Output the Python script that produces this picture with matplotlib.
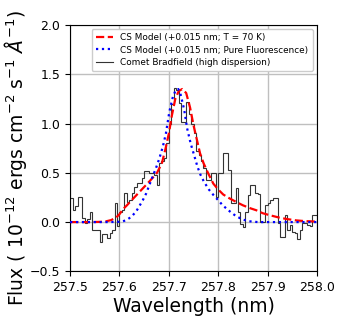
import numpy as np
import matplotlib
matplotlib.use("Agg")
import matplotlib.pyplot as plt

# observed spectrum, 0.005 nm bins from 257.5 to 258.0
bin_lo, bin_hi, n_bins = 257.5, 258.0, 100
flux_obs = [
    0.24, 0.12, 0.16, 0.25, 0.25, 0.04, -0.01, 0.03, 0.10, -0.08,
    -0.08, -0.08, -0.20, -0.12, -0.12, -0.16, -0.11, -0.08, 0.19, -0.04,
    0.10, 0.12, 0.30, 0.20, 0.22, 0.30, 0.36, 0.40, 0.40, 0.45,
    0.52, 0.52, 0.50, 0.50, 0.48, 0.38, 0.60, 0.62, 0.65, 0.80,
    1.00, 1.20, 1.36, 1.34, 1.21, 1.02, 1.02, 1.22, 1.10, 1.00,
    0.90, 0.72, 0.68, 0.62, 0.55, 0.43, 0.43, 0.50, 0.50, 0.25,
    0.50, 0.50, 0.70, 0.70, 0.53, 0.19, 0.19, 0.35, 0.10, -0.02,
    -0.05, 0.10, 0.27, 0.38, 0.38, 0.30, 0.28, 0.00, 0.00, 0.17,
    0.19, 0.22, 0.24, 0.24, -0.01, -0.15, -0.15, 0.07, -0.08, -0.03,
    -0.10, -0.11, -0.17, -0.08, -0.01, -0.01, -0.03, -0.04, 0.07, 0.07,
]

# CS model, T = 70 K
wl_red = [257.50, 257.54, 257.56, 257.573, 257.583, 257.593, 257.60, 257.607,
          257.615, 257.628, 257.645, 257.662, 257.676, 257.686, 257.693,
          257.70, 257.706, 257.713, 257.72, 257.727, 257.735, 257.743,
          257.75, 257.757, 257.763, 257.77, 257.78, 257.79, 257.80,
          257.81, 257.823, 257.838, 257.85, 257.865, 257.877, 257.89,
          257.904, 257.924, 257.94, 257.958, 257.975, 258.0]
flux_red = [0.0, 0.0, 0.002, 0.008, 0.02, 0.045, 0.08, 0.13,
            0.17, 0.24, 0.33, 0.42, 0.50, 0.60, 0.74,
            0.90, 1.08, 1.25, 1.33, 1.35, 1.31, 1.16,
            0.98, 0.83, 0.70, 0.60, 0.49, 0.39, 0.33,
            0.28, 0.24, 0.20, 0.17, 0.14, 0.12, 0.09,
            0.07, 0.045, 0.03, 0.017, 0.01, 0.005]

# CS model, pure fluorescence
wl_blue = [257.50, 257.58, 257.60, 257.607, 257.6135, 257.62, 257.627, 257.634,
           257.64, 257.647, 257.654, 257.66, 257.667, 257.674, 257.681,
           257.688, 257.694, 257.701, 257.708, 257.714, 257.719, 257.724,
           257.731, 257.737, 257.744, 257.751, 257.758, 257.764, 257.771,
           257.781, 257.791, 257.802, 257.809, 257.823, 257.836, 257.85,
           257.863, 257.88, 258.0]
flux_blue = [0.0, 0.0, 0.003, 0.008, 0.02, 0.04, 0.07, 0.11,
             0.16, 0.22, 0.29, 0.37, 0.46, 0.55, 0.65,
             0.77, 0.90, 1.12, 1.27, 1.34, 1.35, 1.29,
             1.14, 0.95, 0.80, 0.68, 0.56, 0.48, 0.41,
             0.33, 0.27, 0.21, 0.17, 0.11, 0.06, 0.025,
             0.008, 0.0, 0.0]

edges = np.linspace(bin_lo, bin_hi, n_bins + 1)

fig = plt.figure(figsize=(3.42, 3.20), dpi=100)
ax = fig.add_axes([0.205, 0.152, 0.722, 0.770])

ax.plot(wl_red, flux_red, color="red", ls="--", lw=1.6,
        label="CS Model (+0.015 nm; T = 70 K)", zorder=3)
ax.plot(wl_blue, flux_blue, color="blue", ls=":", lw=1.6,
        label="CS Model (+0.015 nm; Pure Fluorescence)", zorder=3)
ax.stairs(flux_obs, edges, baseline=None, color="0.2", lw=0.8,
          label="Comet Bradfield (high dispersion)", zorder=2)

ax.set_xlim(257.5, 258.0)
ax.set_ylim(-0.5, 2.0)
ax.set_xticks([257.5, 257.6, 257.7, 257.8, 257.9, 258.0])
ax.set_yticks([-0.5, 0.0, 0.5, 1.0, 1.5, 2.0])
ax.tick_params(labelsize=9)
ax.grid(True, color="0.75", lw=1.0)
ax.set_axisbelow(True)

ax.set_xlabel("Wavelength (nm)", fontsize=13.5, labelpad=2)
ax.set_ylabel(r"Flux ( 10$^{-12}$ ergs cm$^{-2}$ s$^{-1}$ $\AA^{-1}$)",
              fontsize=13.5, labelpad=1)
ax.yaxis.set_label_coords(-0.165, 0.46)

ax.legend(loc="upper right", fontsize=6.4, framealpha=1.0, handlelength=2.0,
          borderpad=0.45, labelspacing=0.35)

fig.savefig("out.png", dpi=100)
